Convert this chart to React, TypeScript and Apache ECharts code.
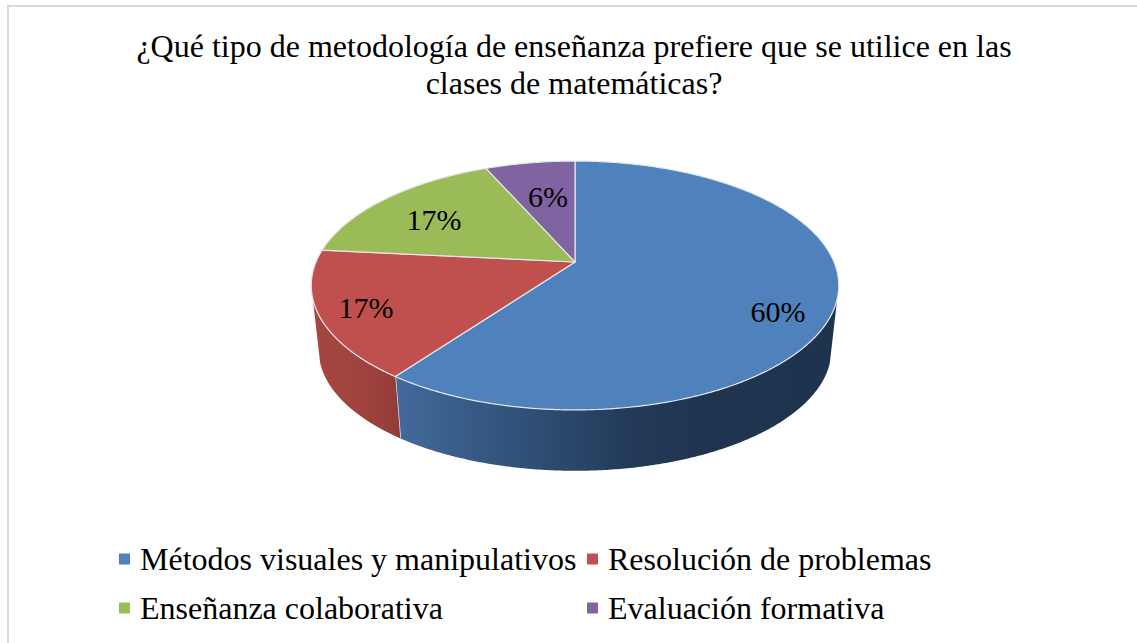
import React, { useEffect, useRef } from "react";
import * as echarts from "echarts";

const titleText = "¿Qué tipo de metodología de enseñanza prefiere que se utilice en las\nclases de matemáticas?";
const categories = ["Métodos visuales y manipulativos", "Resolución de problemas", "Enseñanza colaborativa", "Evaluación formativa"];
const values = [60, 16.6, 16.8, 6.6];
const percentLabels = ["60%", "17%", "17%", "6%"];
const topColors = ["#4f81bd", "#c0504d", "#9bbb59", "#8064a2"];
const labelSpots = [[778, 311], [366, 307], [434, 219], [548, 196]];

const CX = 575, CY = 262, A = 259, B = 120, K = 0.1888;
const DEPTH = 65, BOTTOM_SCALE = 0.972;
const FONT = "'Liberation Serif', 'Times New Roman', serif";

const project = (deg: number, lower = false): number[] => {
  const r = (deg * Math.PI) / 180;
  const X = Math.sin(r), Y = Math.cos(r);
  const w = 1 + K * Y;
  const x = (A * X) / w, y = (-B * Y) / w;
  return lower
    ? [CX + x * BOTTOM_SCALE, CY + y * BOTTOM_SCALE + DEPTH]
    : [CX + x, CY + y];
};

const arc = (from: number, to: number, lower = false): number[][] => {
  const out: number[][] = [];
  const n = Math.max(2, Math.ceil((to - from) * 2));
  for (let i = 0; i <= n; i++) out.push(project(from + ((to - from) * i) / n, lower));
  return out;
};

const total = values.reduce((s, v) => s + v, 0);
const starts = values.map((_, i) => (values.slice(0, i).reduce((s, v) => s + v, 0) / total) * 360);
const ends = starts.map((s, i) => s + (values[i] / total) * 360);

const wallGradients: Record<number, any> = {
  0: { type: "linear", x: 396, y: 0, x2: 840, y2: 0, global: true, colorStops: [
    { offset: 0, color: "#426a9b" }, { offset: 0.3, color: "#2f4f75" }, { offset: 0.52, color: "#233b5a" }, { offset: 0.7, color: "#1f344f" }, { offset: 1, color: "#1e334e" } ] },
  1: { type: "linear", x: 311, y: 0, x2: 401, y2: 0, global: true, colorStops: [
    { offset: 0, color: "#a4473f" }, { offset: 0.6, color: "#a0433f" }, { offset: 1, color: "#913b39" } ] },
};

const WALL_FROM = 107, WALL_TO = 253;

const makeRender = (idx: number) => (_params: any, _api: any) => {
  const children: any[] = [];
  const a0 = Math.max(starts[idx], WALL_FROM), a1 = Math.min(ends[idx], WALL_TO);
  if (a1 > a0 && wallGradients[idx]) {
    const pts = [...arc(a0, a1), ...arc(a0, a1, true).reverse()];
    children.push({ type: "polygon", shape: { points: pts }, style: { fill: wallGradients[idx], stroke: null } });
    if (idx === 0) {
      children.push({ type: "polyline", shape: { points: [project(ends[0]), project(ends[0], true)] }, style: { stroke: "#e6e6e6", lineWidth: 1.4, fill: null } });
    }
  }
  children.push({
    type: "polygon",
    shape: { points: [[CX, CY], ...arc(starts[idx], ends[idx])] },
    style: { fill: topColors[idx], stroke: "#e4e6ea", lineWidth: 1.2, lineJoin: "round" },
  });
  children.push({
    type: "text",
    style: { text: percentLabels[idx], x: labelSpots[idx][0], y: labelSpots[idx][1], align: "center", verticalAlign: "middle", fill: "#000000", font: `30px ${FONT}` },
    z2: 10,
  });
  return { type: "group", children };
};

export default function App() {
  const ref = useRef<HTMLDivElement>(null);
  useEffect(() => {
    if (!ref.current) return;
    const chart = echarts.init(ref.current, undefined, { renderer: "svg" });
    const legendBase = {
      orient: "vertical" as const,
      icon: "rect",
      itemWidth: 11,
      itemHeight: 11,
      itemGap: 17,
      selectedMode: false,
      textStyle: { fontFamily: FONT, fontSize: 32, color: "#000000", padding: [0, 0, 0, 5] },
    };
    chart.setOption({
      animation: false,
      backgroundColor: "#ffffff",
      title: {
        text: titleText,
        left: 569,
        top: 22,
        textAlign: "center",
        textStyle: { fontFamily: FONT, fontSize: 32, fontWeight: "normal", color: "#000000", lineHeight: 37 },
      },
      legend: [
        { ...legendBase, left: 114, top: 538, data: [categories[0], categories[2]] },
        { ...legendBase, left: 582, top: 538, data: [categories[1], categories[3]] },
      ],
      series: categories.map((name, i) => ({
        type: "custom",
        name,
        coordinateSystem: "none",
        renderItem: makeRender(i),
        data: [[values[i]]],
        itemStyle: { color: topColors[i] },
        silent: true,
      })),
      graphic: [
        { type: "rect", z: -1, shape: { x: 8, y: 6, width: 1180, height: 680 }, style: { fill: "#ffffff", stroke: "#d9d9d9", lineWidth: 2 } },
      ],
    });
    return () => chart.dispose();
  }, []);
  return <div ref={ref} style={{ position: "fixed", left: 0, top: 0, width: 1137, height: 643 }} />;
}
